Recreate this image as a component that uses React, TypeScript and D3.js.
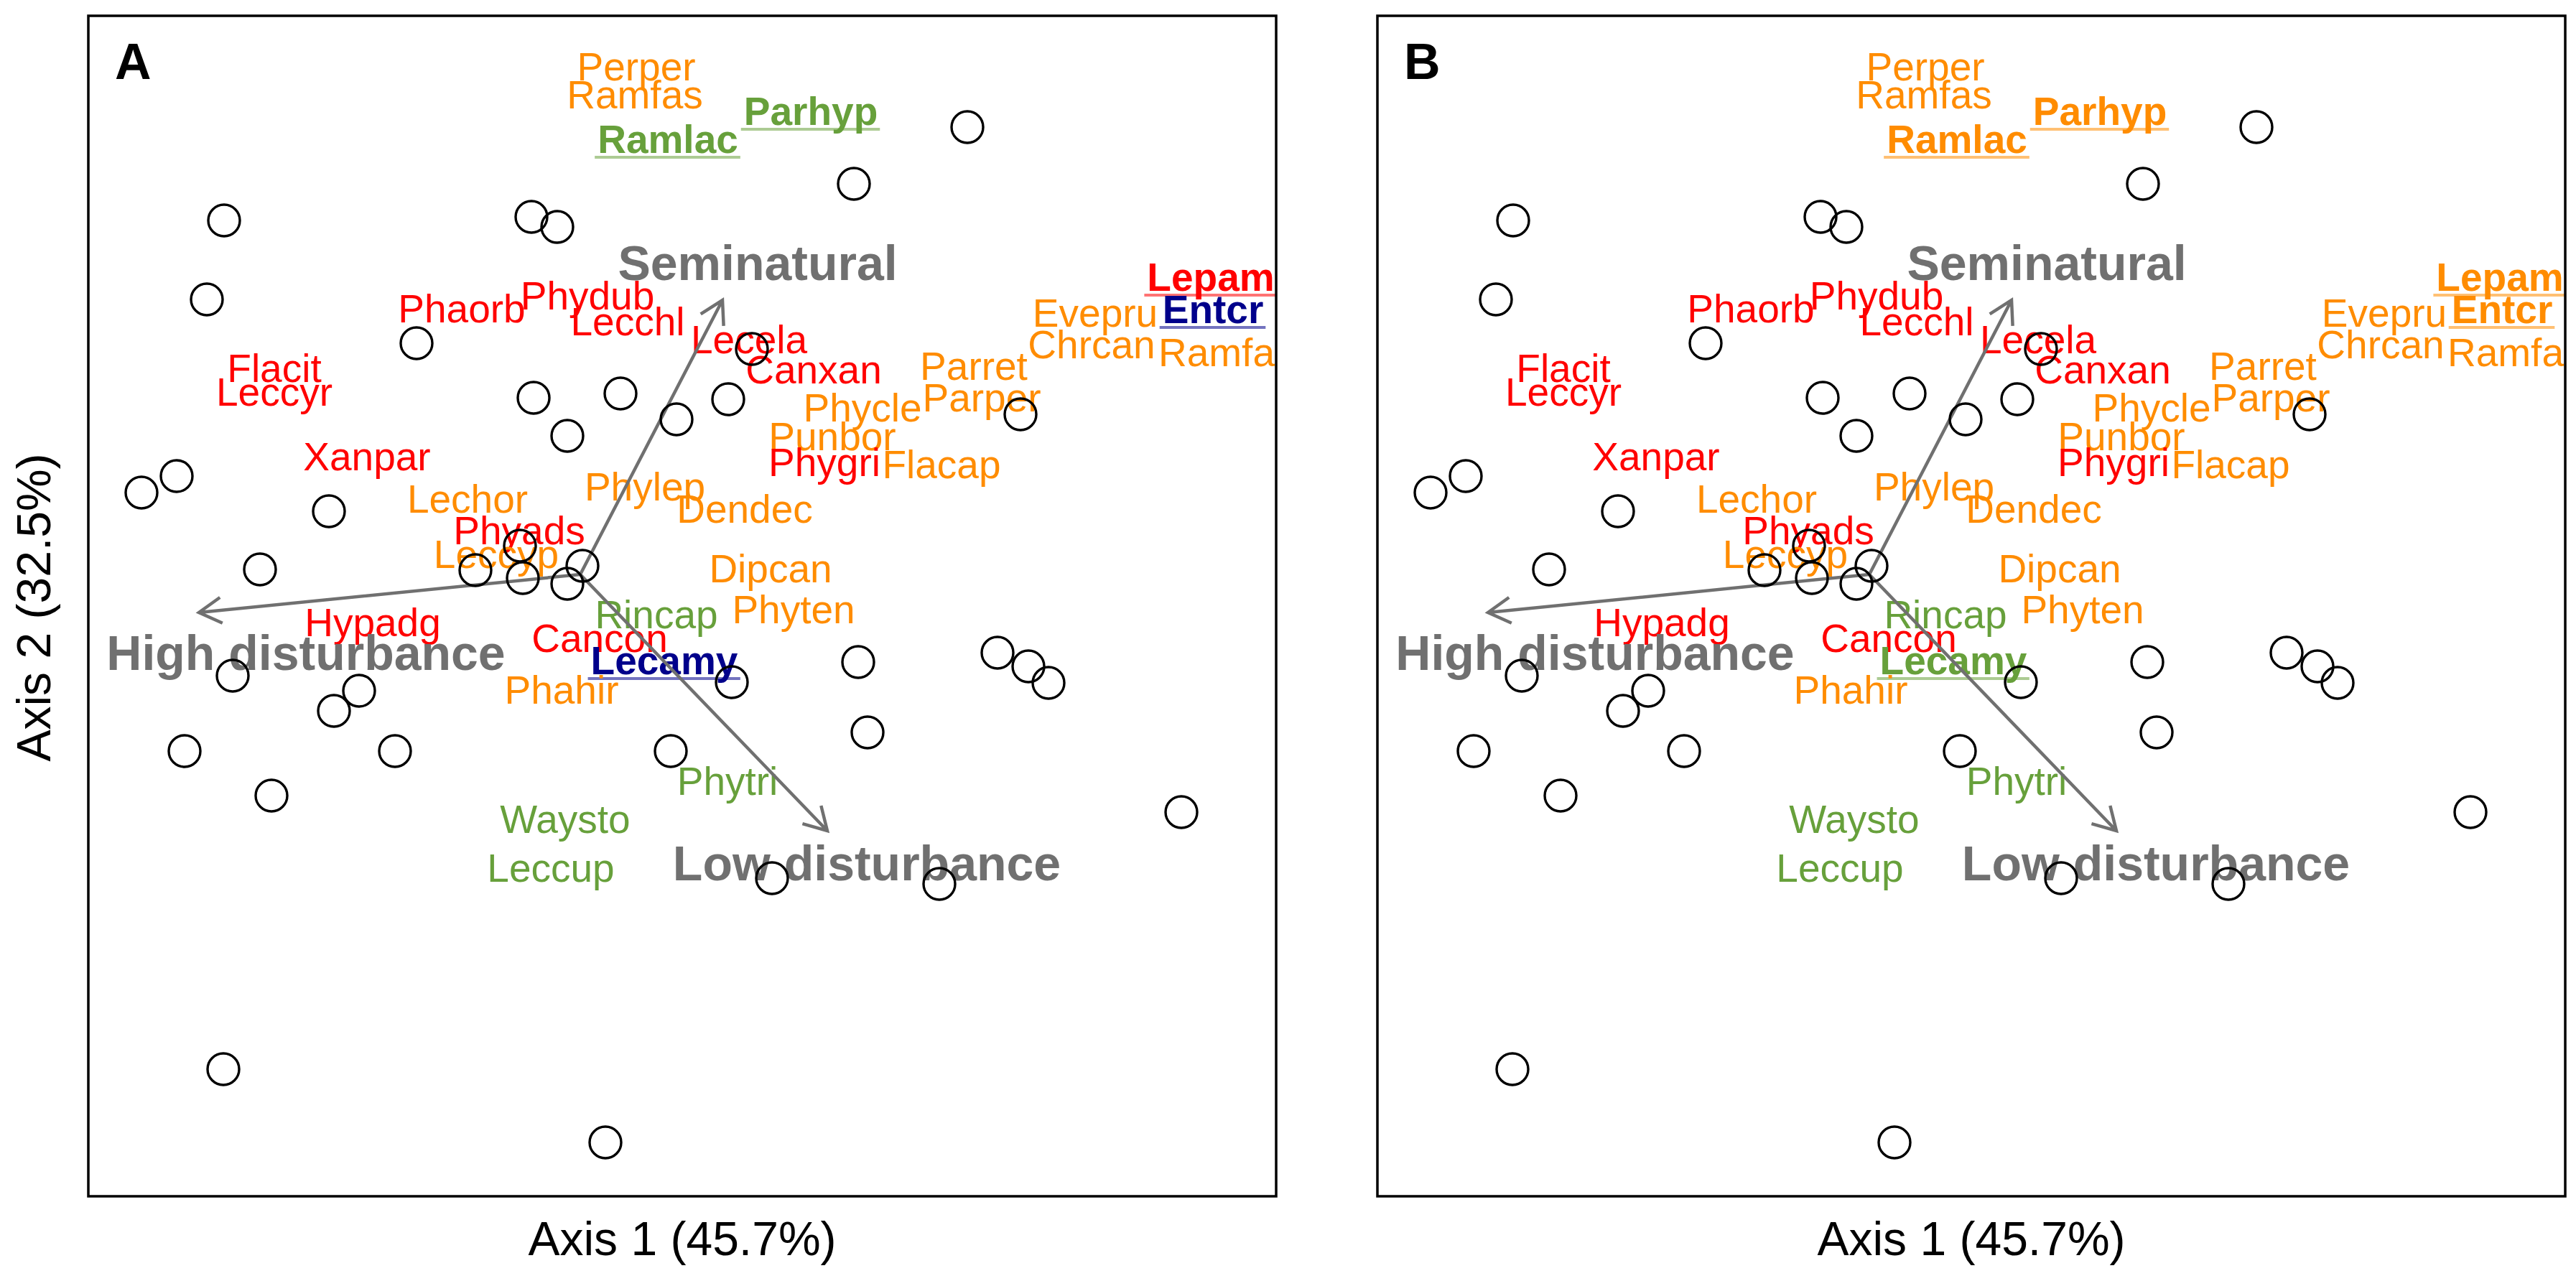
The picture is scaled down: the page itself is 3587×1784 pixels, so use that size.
import React, { useEffect, useRef } from 'react';
import * as d3 from 'd3';

// Site scores (Axis 1, Axis 2)
const siteX = [-0.638, -0.662, -0.210, -0.174, -0.370, -0.207, -0.086, -0.160, -0.008, -0.704, -0.753, -0.492, -0.588, -0.226, -0.288, -0.222, -0.160, -0.139, 0.397, 0.239, 0.097, 0.064, 0.471, -0.626, -0.450, -0.485, -0.693, -0.400, -0.572, -0.016, -0.639, -0.107, 0.069, 0.245, 0.439, 0.482, 0.510, 0.258, 0.695, 0.125, 0.358];
const siteY = [0.537, 0.427, 0.542, 0.528, 0.366, 0.290, 0.296, 0.237, 0.260, 0.181, 0.158, 0.132, 0.051, 0.084, 0.050, 0.039, 0.031, 0.056, 0.667, 0.588, 0.358, 0.288, 0.267, -0.097, -0.118, -0.146, -0.202, -0.202, -0.264, -0.202, -0.645, -0.747, -0.106, -0.078, -0.065, -0.084, -0.107, -0.176, -0.287, -0.379, -0.387];

// Species scores
const speciesNames = ['Perper', 'Ramfas', 'Ramlac', 'Parhyp', 'Phaorb', 'Phydub', 'Lecchl', 'Lecela', 'Canxan', 'Flacit', 'Leccyr', 'Xanpar', 'Lechor', 'Phyads', 'Leccyp', 'Phylep', 'Dendec', 'Phycle', 'Punbor', 'Phygri', 'Flacap', 'Parret', 'Parper', 'Evepru', 'Chrcan', 'Ramfa', 'Lepam', 'Entcr', 'Dipcan', 'Phyten', 'Rincap', 'Cancon', 'Lecamy', 'Phahir', 'Hypadg', 'Phytri', 'Waysto', 'Leccup'];
const speciesX = [-0.064, -0.066, -0.020, 0.179, -0.307, -0.132, -0.076, 0.093, 0.183, -0.568, -0.568, -0.439, -0.299, -0.227, -0.259, -0.052, 0.087, 0.251, 0.209, 0.198, 0.361, 0.406, 0.417, 0.575, 0.570, 0.744, 0.736, 0.739, 0.123, 0.155, -0.036, -0.115, -0.025, -0.168, -0.431, 0.063, -0.163, -0.183];
const speciesY = [0.732, 0.693, 0.631, 0.670, 0.395, 0.413, 0.377, 0.352, 0.310, 0.312, 0.279, 0.189, 0.130, 0.086, 0.053, 0.147, 0.116, 0.257, 0.217, 0.181, 0.178, 0.315, 0.271, 0.389, 0.345, 0.334, 0.439, 0.394, 0.033, -0.024, -0.031, -0.064, -0.095, -0.136, -0.042, -0.263, -0.316, -0.384];
const speciesBold = ['Ramlac', 'Parhyp', 'Lepam', 'Entcr', 'Lecamy'];
// colour groups: R = red, O = orange, G = green, B = dark blue
const groupA = ['O', 'O', 'G', 'G', 'R', 'R', 'R', 'R', 'R', 'R', 'R', 'R', 'O', 'R', 'O', 'O', 'O', 'O', 'O', 'R', 'O', 'O', 'O', 'O', 'O', 'O', 'R', 'B', 'O', 'O', 'G', 'R', 'B', 'O', 'R', 'G', 'G', 'G'];
const groupB = ['O', 'O', 'O', 'O', 'R', 'R', 'R', 'R', 'R', 'R', 'R', 'R', 'O', 'R', 'O', 'O', 'O', 'O', 'O', 'R', 'O', 'O', 'O', 'O', 'O', 'O', 'O', 'O', 'O', 'O', 'G', 'R', 'G', 'O', 'R', 'G', 'G', 'G'];

// Environmental vectors
const vectorNames = ['Seminatural', 'High disturbance', 'Low disturbance'];
const vectorOrigin = [-0.142, 0.044];
const vectorX = [0.056, -0.673, 0.202];
const vectorY = [0.426, -0.009, -0.313];
const vectorLabelX = [0.105, -0.524, 0.257];
const vectorLabelY = [0.454, -0.089, -0.382];

const panelLabels = ['A', 'B'];
const axisTitles = ['Axis 1 (45.7%)', 'Axis 2 (32.5%)'];

const COLORS: Record<string, string> = { R: '#FF0000', O: '#FF8C00', G: '#67A03B', B: '#00008B' };
const FONT = "'Liberation Sans', Arial, Helvetica, sans-serif";
const GREY = '#707070';

export default function App() {
  const ref = useRef<SVGSVGElement | null>(null);

  useEffect(() => {
    const svg = d3.select(ref.current);
    svg.selectAll('*').remove();
    const W = 1654, H = 1644, top = 22;
    const lefts = [123, 1918];
    const y = d3.scaleLinear().domain([0.822, -0.822]).range([top, top + H]);

    lefts.forEach((left, pi) => {
      const x = d3.scaleLinear().domain([-0.827, 0.827]).range([left, left + W]);
      const groups = pi === 0 ? groupA : groupB;
      const clipId = `clip${pi}`;
      svg.append('clipPath').attr('id', clipId)
        .append('rect').attr('x', left).attr('y', top).attr('width', W).attr('height', H);
      const g = svg.append('g').attr('clip-path', `url(#${clipId})`);

      // species labels
      speciesNames.forEach((name, i) => {
        const bold = speciesBold.includes(name);
        const col = COLORS[groups[i]];
        const t = g.append('text')
          .attr('x', x(speciesX[i])).attr('y', y(speciesY[i]))
          .attr('text-anchor', 'middle')
          .attr('font-family', FONT)
          .attr('font-size', 55)
          .attr('font-weight', bold ? 'bold' : 'normal')
          .attr('fill', col)
          .text(name);
        if (bold) {
          const bb = (t.node() as SVGTextElement).getBBox();
          g.append('line')
            .attr('x1', bb.x - 4).attr('x2', bb.x + bb.width + 3)
            .attr('y1', y(speciesY[i]) + 6).attr('y2', y(speciesY[i]) + 6)
            .attr('stroke', col).attr('stroke-width', 4).attr('stroke-opacity', 0.55);
        }
      });

      // vector labels
      vectorNames.forEach((name, i) => {
        g.append('text')
          .attr('x', x(vectorLabelX[i])).attr('y', y(vectorLabelY[i]))
          .attr('text-anchor', 'middle')
          .attr('font-family', FONT).attr('font-size', 68).attr('font-weight', 'bold')
          .attr('fill', GREY)
          .text(name);
      });

      // arrows
      const ox = x(vectorOrigin[0]), oy = y(vectorOrigin[1]);
      vectorNames.forEach((_, i) => {
        const tx = x(vectorX[i]), ty = y(vectorY[i]);
        const ang = Math.atan2(ty - oy, tx - ox);
        const L = 36, a = Math.PI / 6;
        const h1x = tx - L * Math.cos(ang - a), h1y = ty - L * Math.sin(ang - a);
        const h2x = tx - L * Math.cos(ang + a), h2y = ty - L * Math.sin(ang + a);
        g.append('path')
          .attr('d', `M${ox},${oy}L${tx},${ty}M${h1x},${h1y}L${tx},${ty}L${h2x},${h2y}`)
          .attr('fill', 'none').attr('stroke', GREY).attr('stroke-width', 4.5)
          .attr('stroke-linejoin', 'miter');
      });

      // sites
      siteX.forEach((sx, i) => {
        g.append('circle')
          .attr('cx', x(sx)).attr('cy', y(siteY[i])).attr('r', 22)
          .attr('fill', 'none').attr('stroke', '#000').attr('stroke-width', 3.4);
      });

      // frame
      svg.append('rect').attr('x', left).attr('y', top).attr('width', W).attr('height', H)
        .attr('fill', 'none').attr('stroke', '#000').attr('stroke-width', 3.5);

      // panel letter
      svg.append('text')
        .attr('x', left + 37).attr('y', 110)
        .attr('font-family', FONT).attr('font-size', 70).attr('font-weight', 'bold')
        .attr('fill', '#000').text(panelLabels[pi]);

      // x axis title
      svg.append('text')
        .attr('x', left + W / 2).attr('y', 1748)
        .attr('text-anchor', 'middle')
        .attr('font-family', FONT).attr('font-size', 66).attr('fill', '#000')
        .text(axisTitles[0]);

      if (pi === 0) {
        svg.append('text')
          .attr('transform', `translate(70, ${top + H / 2 + 2}) rotate(-90)`)
          .attr('text-anchor', 'middle')
          .attr('font-family', FONT).attr('font-size', 66).attr('fill', '#000')
          .text(axisTitles[1]);
      }
    });
  }, []);

  return (
    <svg ref={ref} width={3587} height={1784}
      style={{ position: 'absolute', left: 0, top: 0, background: '#fff', display: 'block' }} />
  );
}
